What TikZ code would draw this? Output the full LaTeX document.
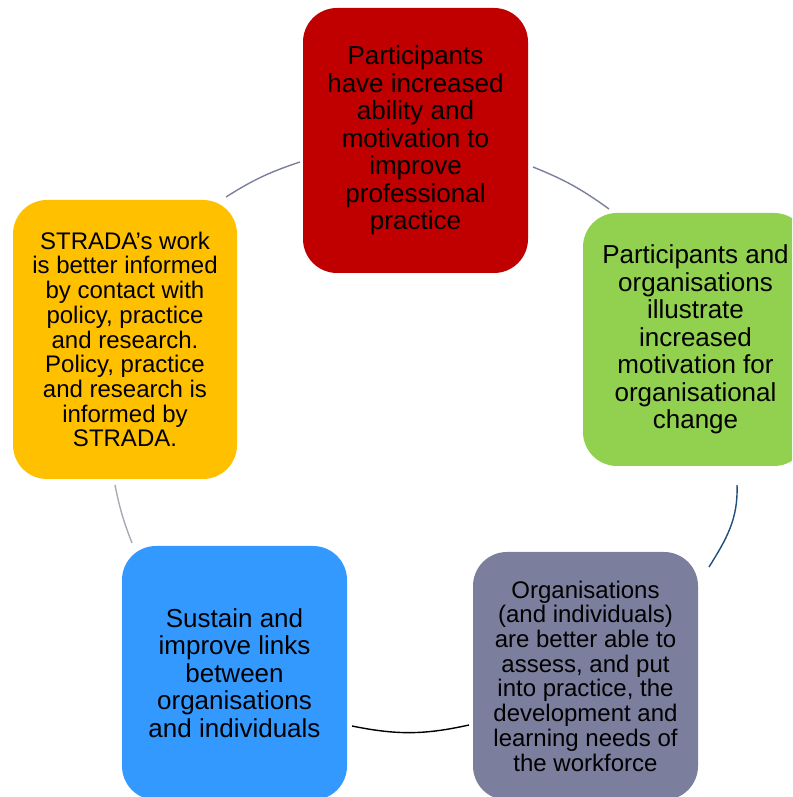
\documentclass[tikz,border=0pt]{standalone}
\usepackage{fontspec}
\setmainfont{Liberation Sans}
\begin{document}
\begin{tikzpicture}[x=1pt,y=1pt,
  stagebox/.style={rounded corners=34pt, minimum width=225pt, inner sep=0pt, align=center, text=black},
  bigtext/.style={font=\fontsize{26}{27.5}\selectfont},
  smalltext/.style={font=\fontsize{24}{24.7}\selectfont},
  link/.style={line width=1.4pt}
]
\definecolor{stagered}{HTML}{C00000}
\definecolor{stagegreen}{HTML}{92D050}
\definecolor{stageslate}{HTML}{7B7E9C}
\definecolor{stageblue}{HTML}{3399FF}
\definecolor{stageyellow}{HTML}{FFC000}
\definecolor{linkslate}{HTML}{7A7F9E}
\definecolor{linknavy}{HTML}{1F4E79}
\definecolor{linkgrey}{HTML}{A9AAB4}

\useasboundingbox (0,0) rectangle (792,797);
\clip (0,0) rectangle (792,797);

% the five stages of the cycle
\node[stagebox, bigtext, fill=stagered, minimum height=265pt] (ability) at (415.5,656.5)
  {Participants\\have increased\\ability and\\motivation to\\improve\\professional\\practice};
\node[stagebox, bigtext, fill=stagegreen, minimum height=253pt] (change) at (695.5,457.5)
  {Participants and\\organisations\\illustrate\\increased\\motivation for\\organisational\\change};
\node[stagebox, smalltext, fill=stageslate, minimum height=248pt] (assess) at (585.5,121)
  {Organisations\\(and individuals)\\are better able to\\assess, and put\\into practice, the\\development and\\learning needs of\\the workforce};
\node[stagebox, bigtext, fill=stageblue, minimum height=254pt] (links) at (234.5,124)
  {Sustain and\\improve links\\between\\organisations\\and individuals};
\node[stagebox, smalltext, fill=stageyellow, minimum width=224pt, minimum height=279pt] (strada) at (125,457.5)
  {STRADA’s work\\is better informed\\by contact with\\policy, practice\\and research.\\Policy, practice\\and research is\\informed by\\STRADA.};

% end points of the arcs in the gaps between stages
\coordinate (a1s) at (533,630);
\coordinate (a1e) at (609,588);
\coordinate (a2s) at (737,312);
\coordinate (a2e) at (709,230);
\coordinate (a3s) at (469,72);
\coordinate (a3e) at (352,71);
\coordinate (a4s) at (132,254);
\coordinate (a4e) at (115,312);
\coordinate (a5s) at (226,600);
\coordinate (a5e) at (300,635);

% connecting arcs, running clockwise
\draw[link, linkslate] (a1s) to[bend left=7] (a1e);
\draw[link, linknavy] (a2s) to[out=-88, in=58] (a2e);
\draw[link, black] (a3s) to[bend left=12] (a3e);
\draw[link, linkgrey] (a4s) to[bend left=5] (a4e);
\draw[link, linkslate] (a5s) to[bend left=7] (a5e);
\end{tikzpicture}
\end{document}
